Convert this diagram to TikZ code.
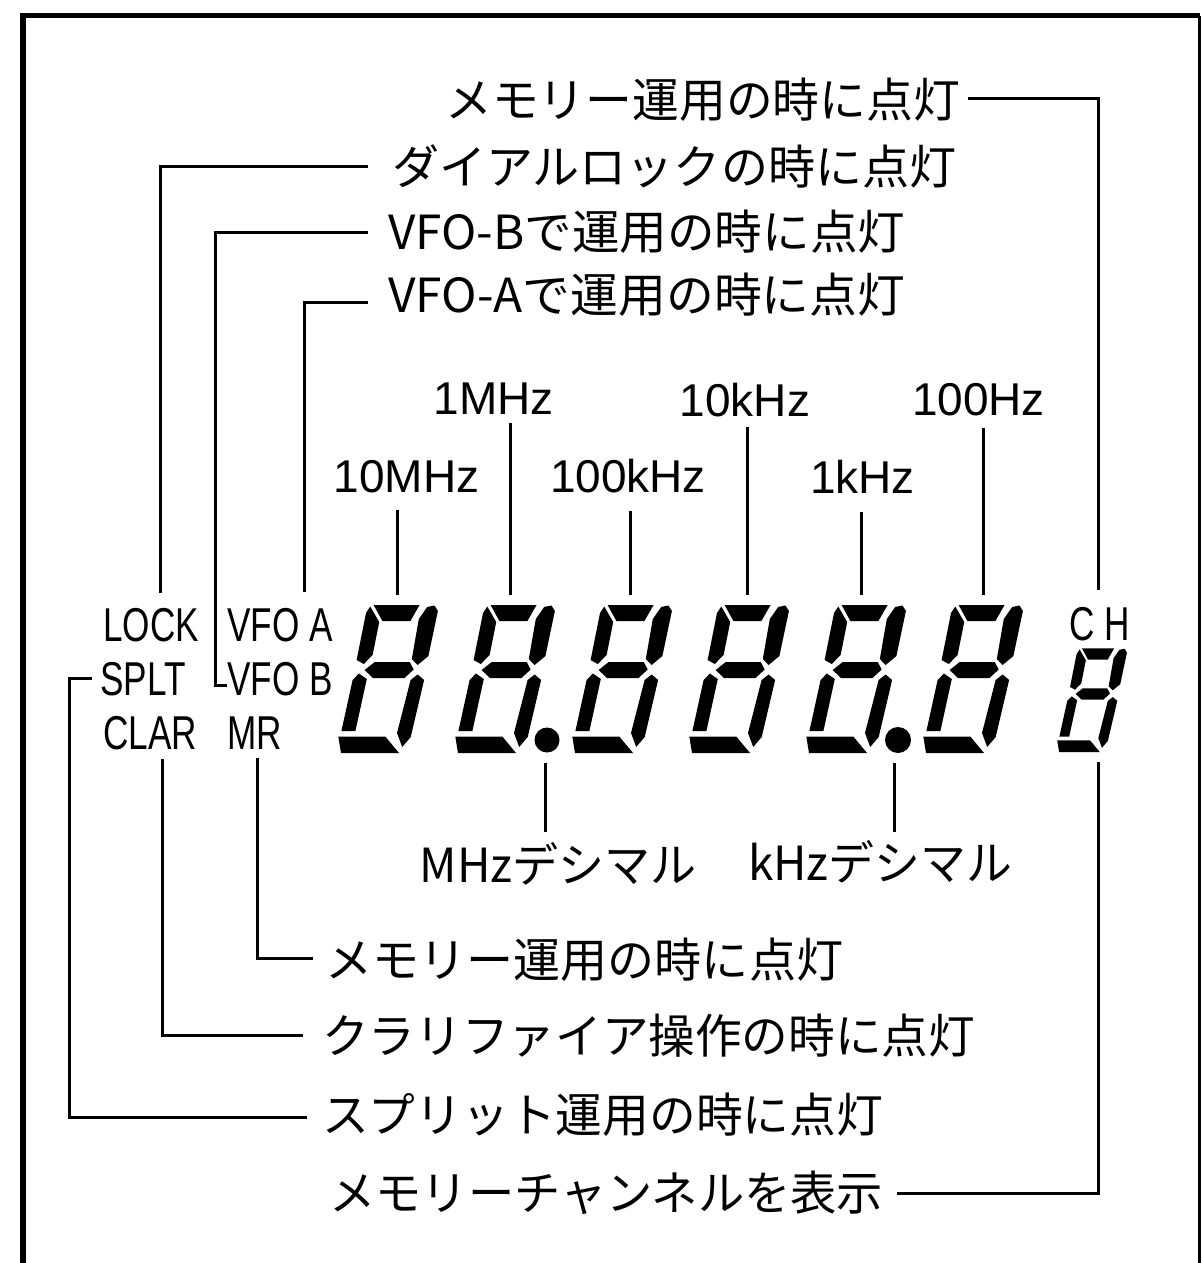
\documentclass[tikz,border=0pt]{standalone}
\usepackage{graphicx}
\usepackage{fontspec}
\newfontfamily\jpfont{Noto Sans CJK JP}
\newfontfamily\lcdfont[FakeStretch=0.74]{Liberation Sans}
\newfontfamily\freqfont{Liberation Sans}
\newcommand\fitw[2]{\resizebox{#1pt}{\height}{#2}}
\newcommand\lcddigit[3]{%
 \begin{scope}[shift={(#1,#2)}, xslant=0.2, scale=#3]
  \fill[seg] (6,148) -- (52,148) -- (46,132) -- (18,132) -- cycle;
  \fill[seg] (54,134) -- (60,146) -- (67,147.5) -- (71.5,142) -- (71,97) -- (62,88) -- (55,94) -- cycle;
  \fill[seg] (0,93) -- (0,140) -- (3,146.5) -- (15,131) -- (15,98) -- (8,89) -- cycle;
  \fill[seg] (10,83) -- (18.5,91) -- (53.5,91) -- (59,83.5) -- (51.5,75) -- (20,75) -- cycle;
  \fill[seg] (-1,22) -- (0,73) -- (5,79.5) -- (14,74) -- (13,22) -- cycle;
  \fill[seg] (58,73) -- (64,78.5) -- (71.5,73) -- (69.5,16) -- (63,6) -- (55,20) -- cycle;
  \fill[seg] (-3,16.5) -- (44,16.5) -- (61,0) -- (3,0) -- cycle;
 \end{scope}}
\tikzset{
  lead/.style={line width=3pt},
  seg/.style={fill=black},
  jp/.style={font=\jpfont\fontsize{47}{56}\selectfont, inner sep=0pt},
  lcd/.style={font=\lcdfont\fontsize{47.5}{56}\selectfont, inner sep=0pt},
  freq/.style={font=\freqfont\fontsize{46}{54}\selectfont, inner sep=0pt},
  dpoint/.style={circle, fill=black, inner sep=0pt, minimum size=25pt},
}
\begin{document}
\begin{tikzpicture}[x=1pt,y=1pt]
\useasboundingbox (0,0) rectangle (1204,-1263);
\fill[white] (0,0) rectangle (1204,-1263);
% frame
\draw[line width=6pt] (23,-1263) -- (23,-16);
\draw[line width=5pt] (20,-16) -- (1200,-16);
\draw[line width=3pt] (1199,-16) -- (1199,-1263);

% seven segment digits
\lcddigit{338}{-753}{1}
\lcddigit{455}{-753}{1}
\lcddigit{572}{-753}{1}
\lcddigit{689}{-753}{1}
\lcddigit{806}{-753}{1}
\lcddigit{923}{-753}{1}
\lcddigit{1057}{-752}{0.7}
\node[dpoint] (dp1) at (547,-740) {};
\node[dpoint, minimum size=26pt] (dp2) at (898,-740) {};

% LCD annunciators
\node[lcd, anchor=west] (lock) at (103,-625) {LOCK};
\node[lcd, anchor=west] (vfoa) at (227,-625) {VFO A};
\node[lcd, anchor=west] (splt) at (100,-679.5) {SPLT};
\node[lcd, anchor=west] (vfob) at (227,-679.5) {VFO B};
\node[lcd, anchor=west] (clar) at (103,-733.5) {CLAR};
\node[lcd, anchor=west] (mr) at (227,-733.5) {MR};
\node[lcd] (ch) at (1099.5,-624) {C H};

% frequency labels
\node[freq] (f1M) at (493.5,-398.5) {1MHz};
\node[freq] (f10k) at (745,-400) {10kHz};
\node[freq] (f100) at (978.5,-400) {100Hz};
\node[freq] (f10M) at (406.5,-476.5) {10MHz};
\node[freq] (f100k) at (628,-476.5) {100kHz};
\node[freq] (f1k) at (862.5,-476.5) {1kHz};

\coordinate (d1top) at (397,-595);
\coordinate (d2top) at (510,-595);
\coordinate (d3top) at (630,-595);
\coordinate (d4top) at (747,-595);
\coordinate (d5top) at (861,-595);
\coordinate (d6top) at (983,-595);
\draw[lead] (d1top |- f10M.south) ++(0,-17) -- (d1top);
\draw[lead] (d2top |- f1M.south) ++(0,-8) -- (d2top);
\draw[lead] (d3top |- f100k.south) ++(0,-17) -- (d3top);
\draw[lead] (d4top |- f10k.south) ++(0,-10) -- (d4top);
\draw[lead] (d5top |- f1k.south) ++(0,-19) -- (d5top);
\draw[lead] (d6top |- f100.south) ++(0,-12) -- (d6top);

% Japanese labels
\node[jp, anchor=west] (tMemTop) at (445,-100) {\fitw{515}{メモリー運用の時に点灯}};
\node[jp, anchor=west] (tDial) at (392,-166) {\fitw{564}{ダイアルロックの時に点灯}};
\node[jp, anchor=west] (tVfoB) at (388,-232) {\fitw{517}{VFO-Bで運用の時に点灯}};
\node[jp, anchor=west] (tVfoA) at (388,-295) {\fitw{517}{VFO-Aで運用の時に点灯}};
\node[jp] (tMHzDec) at (558.5,-864) {\fitw{277}{MHzデシマル}};
\node[jp] (tkHzDec) at (880,-862) {\fitw{264}{kHzデシマル}};
\node[jp, anchor=west] (tMR) at (325,-960) {\fitw{518}{メモリー運用の時に点灯}};
\node[jp, anchor=west] (tClar) at (322,-1036) {\fitw{653}{クラリファイア操作の時に点灯}};
\node[jp, anchor=west] (tSplt) at (322,-1115) {\fitw{561}{スプリット運用の時に点灯}};
\node[jp, anchor=west] (tMemCh) at (329,-1193) {\fitw{554}{メモリーチャンネルを表示}};

% connectors
\coordinate (chTop) at (1098,-590);
\coordinate (chBot) at (1098,-762);
\coordinate (lockTop) at (160,-593);
\coordinate (vfoaTop) at (304,-592);
\coordinate (vfobCorner) at (215,-685);
\coordinate (spltCorner) at (69,-678);
\coordinate (dp1low) at (545,-832);
\coordinate (dp2low) at (894,-832);

\draw[lead] (tMemTop.east) ++(8,2) -| (chTop);
\draw[lead] (tDial.west) ++(-24,0) -| (lockTop);
\draw[lead] (tVfoB.west) ++(-20,0) -| (vfobCorner) -- (vfob.west |- vfobCorner);
\draw[lead] (tVfoA.west) ++(-20,-7) -| (vfoaTop);
\draw[lead] (dp1.south -| dp1low) ++(0,-10) -- (dp1low);
\draw[lead] (dp2.south -| dp2low) ++(0,-10) -- (dp2low);
\draw[lead] (mr.south) ++(3,-8) |- ([xshift=-12pt,yshift=2pt]tMR.west);
\draw[lead] (clar.south) ++(12,-8) |- ([xshift=-19pt,yshift=1pt]tClar.west);
\draw[lead] ([xshift=-8pt,yshift=1.5pt]splt.west) -- (spltCorner) |- ([xshift=-15pt,yshift=-2pt]tSplt.west);
\draw[lead] (chBot) |- ([xshift=14pt]tMemCh.east);
\end{tikzpicture}
\end{document}
